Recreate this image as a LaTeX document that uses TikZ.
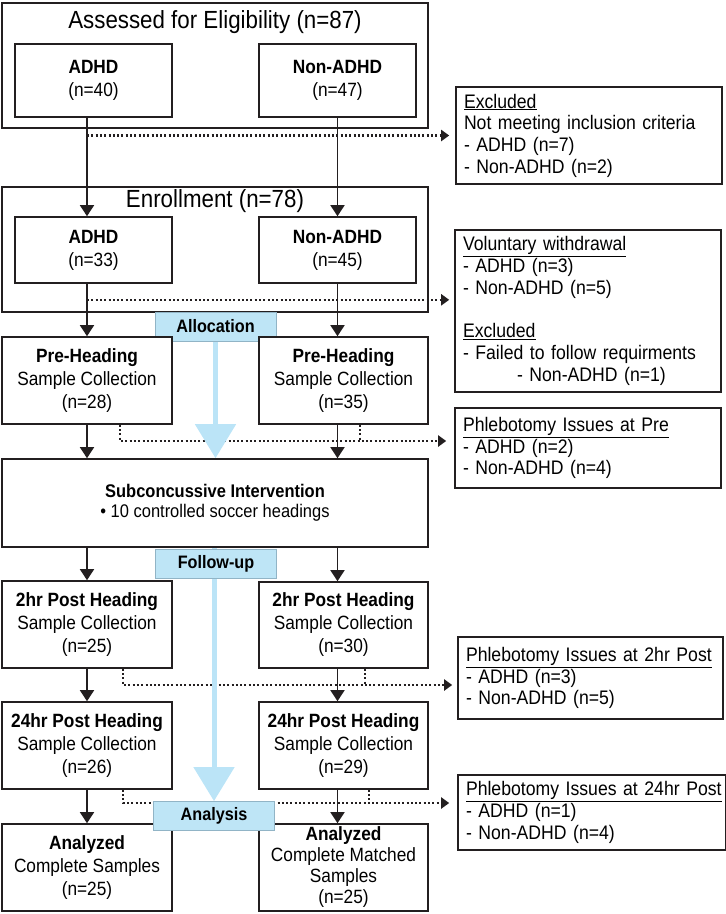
\documentclass[tikz,border=0pt]{standalone}
\usepackage{fontspec}
\setmainfont[FakeStretch=0.9]{Liberation Sans}
\usetikzlibrary{arrows.meta, calc, backgrounds}
\definecolor{boxline}{RGB}{35, 31, 32}
\definecolor{phaseblue}{RGB}{190, 229, 246}
\definecolor{phaseedge}{RGB}{145, 180, 198}
\definecolor{flowblue}{RGB}{187, 228, 247}
\tikzset{
  outerbox/.style={draw=boxline, line width=1.6pt, inner sep=0pt},
  grpbox/.style={draw=boxline, fill=white, line width=1.6pt, align=center, inner sep=0pt, font=\fontsize{19.2}{23}\selectfont},
  sidebox/.style={draw=boxline, fill=white, line width=1.6pt, align=left, inner xsep=8pt, inner ysep=0pt, font=\fontsize{19.6}{21.7}\selectfont},
  titletext/.style={font=\fontsize{24.8}{28}\selectfont, inner sep=0pt},
  phaselabel/.style={draw=phaseedge, fill=phaseblue, line width=0.8pt, minimum width=121pt, minimum height=29pt, font=\bfseries\fontsize{18}{21}\selectfont},
  flowarrow/.style={-{Triangle[length=11pt, width=14pt]}, draw=boxline, line width=1.6pt},
  dropline/.style={draw=boxline, line width=2.2pt, dash pattern=on 2pt off 2.3pt},
  droparrow/.style={dropline, -{Triangle[length=8pt, width=11pt]}},
  bluearrow/.style={draw=flowblue, line width=5pt, -{Triangle[length=34pt, width=40pt]}},
}

\begin{document}
\begin{tikzpicture}[x=1pt, y=-1pt]
  \useasboundingbox (0,0) rectangle (726,914);
  % eligibility
  \node[outerbox, minimum width=426pt, minimum height=125pt] (assess) at (215,65.5) {};
  \node[titletext] (assessT) at (215,22) {Assessed for Eligibility (n=87)};
  \node[grpbox, minimum width=157pt, minimum height=73pt] (adhdA) at (93.5,80.5) {\textbf{ADHD}\\(n=40)};
  \node[grpbox, minimum width=157pt, minimum height=73pt] (nonA) at (337.5,80.5) {\textbf{Non-ADHD}\\(n=47)};
  \node[sidebox, text width=250pt, minimum height=97pt] (excl) at (589,135.5) {\underline{Excluded}\\Not meeting inclusion criteria\\- ADHD (n=7)\\- Non-ADHD (n=2)};
  % enrollment
  \node[outerbox, minimum width=426pt, minimum height=125pt] (enroll) at (215,249.5) {};
  \node[titletext] (enrollT) at (215,201) {Enrollment (n=78)};
  \node[grpbox, minimum width=157pt, minimum height=66pt] (adhdE) at (93.5,250) {\textbf{ADHD}\\(n=33)};
  \node[grpbox, minimum width=157pt, minimum height=66pt] (nonE) at (337.5,250) {\textbf{Non-ADHD}\\(n=45)};
  \node[sidebox, text width=250pt, minimum height=162pt] (withdraw) at (588,311) {\underline{Voluntary withdrawal}\\- ADHD (n=3)\\- Non-ADHD (n=5)\\[21.7pt]\underline{Excluded}\\- Failed to follow requirments\\\hspace*{54pt}- Non-ADHD (n=1)};
  \node[phaselabel] (alloc) at (215.5,326.5) {Allocation};
  % pre heading
  \node[grpbox, minimum width=170pt, minimum height=87pt] (preA) at (87,380.5) {\textbf{Pre-Heading}\\Sample Collection\\(n=28)};
  \node[grpbox, minimum width=169pt, minimum height=87pt] (preN) at (343.5,380.5) {\textbf{Pre-Heading}\\Sample Collection\\(n=35)};
  \node[sidebox, text width=250pt, minimum height=80pt] (phlebPre) at (588,448) {\underline{Phlebotomy Issues at Pre}\\- ADHD (n=2)\\- Non-ADHD (n=4)};
  \node[grpbox, minimum width=426pt, minimum height=88pt, font=\fontsize{18.3}{20}\selectfont] (subc) at (215,503) {\textbf{Subconcussive Intervention}\\\textbullet\ 10 controlled soccer headings};
  \node[phaselabel] (follow) at (216,563.5) {Follow-up};
  % post heading
  \node[grpbox, minimum width=170pt, minimum height=87pt] (post2A) at (87,624.5) {\textbf{2hr Post Heading}\\Sample Collection\\(n=25)};
  \node[grpbox, minimum width=169pt, minimum height=86pt] (post2N) at (343.5,625) {\textbf{2hr Post Heading}\\Sample Collection\\(n=30)};
  \node[sidebox, text width=249pt, minimum height=82pt] (phleb2) at (590.5,678) {\underline{Phlebotomy Issues at 2hr Post}\\- ADHD (n=3)\\- Non-ADHD (n=5)};
  \node[grpbox, minimum width=170pt, minimum height=87pt] (post24A) at (87,745.5) {\textbf{24hr Post Heading}\\Sample Collection\\(n=26)};
  \node[grpbox, minimum width=169pt, minimum height=87pt] (post24N) at (343.5,745.5) {\textbf{24hr Post Heading}\\Sample Collection\\(n=29)};
  \node[sidebox, text width=252pt, minimum height=75pt] (phleb24) at (592,812.5) {\underline{Phlebotomy Issues at 24hr Post}\\- ADHD (n=1)\\- Non-ADHD (n=4)};
  % analysis
  \node[grpbox, minimum width=170pt, minimum height=87pt] (anaA) at (87,867.5) {\textbf{Analyzed}\\Complete Samples\\(n=25)};
  \node[grpbox, minimum width=169pt, minimum height=87pt, font=\fontsize{19.2}{21}\selectfont] (anaN) at (343.5,867.5) {\textbf{Analyzed}\\Complete Matched\\Samples\\(n=25)};
  \node[phaselabel] (analysis) at (214,816) {Analysis};

  \begin{scope}[on background layer]
    \draw[droparrow, shorten >=6pt] (excl.west -| preA) -- (excl.west);
    \draw[droparrow, shorten >=5pt] ($(adhdE.south -| preA)+(0,16)$) coordinate (wd) -- (wd -| withdraw.west);
    \draw[droparrow, shorten >=8pt] ($(preA.south)+(33,0)$) |- ($(phlebPre.west)+(0,-7)$);
    \draw[dropline] ($(preN.south)+(16.5,0)$) -- ++(0,17);
    \draw[droparrow, shorten >=5pt] ($(post2A.south)+(36,0)$) |- ($(phleb2.west)+(0,7)$);
    \draw[dropline] ($(post2N.south)+(21.5,0)$) -- ++(0,17);
    \draw[droparrow, shorten >=8pt] ($(post24A.south)+(36,0)$) |- ($(phleb24.west)+(0,-9.5)$);
    \draw[dropline] ($(post24N.south)+(25.5,0)$) -- ++(0,14);
    \draw[bluearrow] (alloc.south) -- (alloc.south |- subc.north);
    \draw[bluearrow] (analysis.north |- subc.south) -- (analysis.north);
  \end{scope}

  \draw[flowarrow] (adhdA.south -| preA) -- (adhdE.north -| preA);
  \draw[flowarrow] (nonA.south) -- (nonE.north);
  \draw[flowarrow] (adhdE.south -| preA) -- (preA.north);
  \draw[flowarrow] (nonE.south) -- (preN.north -| nonE);
  \draw[flowarrow] (preA.south) -- (subc.north -| preA);
  \draw[flowarrow] (preN.south -| nonE) -- (subc.north -| nonE);
  \draw[flowarrow] (subc.south -| preA) -- (post2A.north);
  \draw[flowarrow] (subc.south -| nonE) -- (post2N.north -| nonE);
  \draw[flowarrow] (post2A.south) -- (post24A.north);
  \draw[flowarrow] (post2N.south -| nonE) -- (post24N.north -| nonE);
  \draw[flowarrow] (post24A.south) -- (anaA.north);
  \draw[flowarrow] (post24N.south -| nonE) -- (anaN.north -| nonE);
\end{tikzpicture}
\end{document}
